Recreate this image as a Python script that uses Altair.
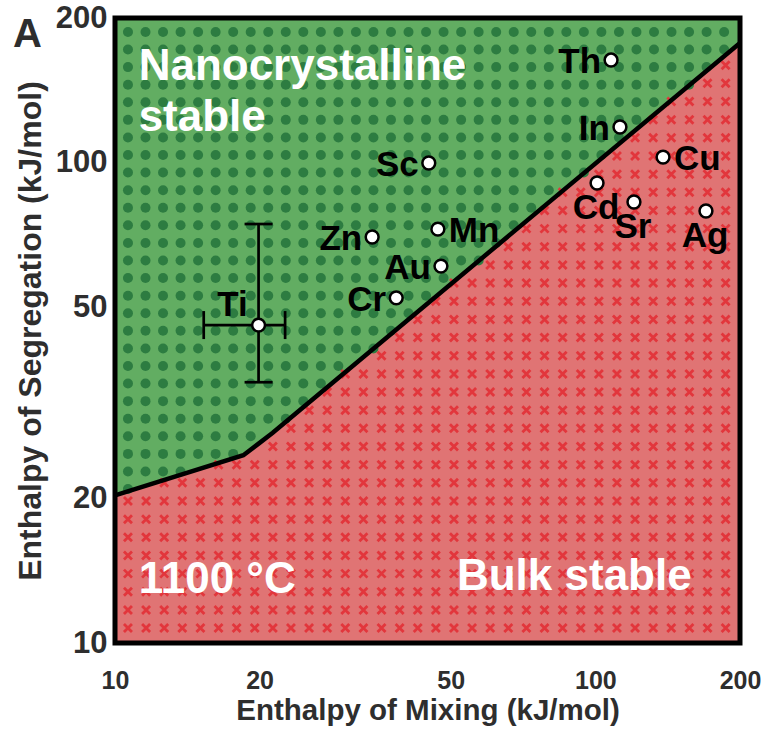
import altair as alt
import numpy as np
import pandas as pd

# Solute elements with their enthalpies (kJ/mol)
ELEMENTS = ["Th", "In", "Cu", "Cd", "Sr", "Ag", "Sc", "Mn", "Zn", "Au", "Cr", "Ti"]
H_MIX = [107.8, 112.5, 138.3, 100.8, 120.3, 169.9, 45.0, 47.0, 34.3, 47.7, 38.5, 19.9]
H_SEG = [163.5, 118.6, 102.7, 90.7, 82.8, 79.3, 99.8, 72.7, 70.0, 60.9, 52.3, 45.9]

# Uncertainty range for Ti
TI_MIX_RANGE = [15.3, 22.6]
TI_SEG_RANGE = [34.9, 74.5]

# Stability boundary at 1100 °C
BOUNDARY_MIX = [10.0, 18.5, 20.0, 21.3, 24.3, 200.0]
BOUNDARY_SEG = [20.3, 24.6, 26.1, 27.4, 30.6, 177.5]

DOMAIN = [10, 200]
TICKS = [10, 20, 50, 100, 200]

FONT = "Liberation Sans"
GREEN_BG = "#62ad62"
GREEN_DOT = "#2d7c41"
RED_BG = "#e07474"
RED_X = "#e2363c"
TEXT_DARK = "#2e2e2e"

W = H = 625
SCALE = alt.Scale(type="log", domain=DOMAIN, nice=False)

boundary = pd.DataFrame({"mix": BOUNDARY_MIX, "seg": BOUNDARY_SEG})
frame = pd.DataFrame({"mix": [DOMAIN[0]], "mix2": [DOMAIN[1]],
                      "seg": [DOMAIN[0]], "seg2": [DOMAIN[1]]})
points = pd.DataFrame({"element": ELEMENTS, "mix": H_MIX, "seg": H_SEG})


def above_boundary(mix, seg):
    edge = np.interp(np.log10(mix), np.log10(BOUNDARY_MIX), np.log10(BOUNDARY_SEG))
    return np.log10(seg) > edge


# Texture grids (log-spaced, in decades of the axis domain)
lo = np.log10(DOMAIN[0])
hi = np.log10(DOMAIN[1])
dot_x = 10 ** (lo + 0.027 + 0.0365 * np.arange(35))
dot_y = 10 ** (hi - 0.029 - 0.0366 * np.arange(35))
gx, gy = np.meshgrid(dot_x, dot_y)
dots = pd.DataFrame({"mix": gx.ravel(), "seg": gy.ravel()})
dots = dots[above_boundary(dots.mix.values, dots.seg.values)]

cross_x = 10 ** (lo + 0.027 + 0.0377 * np.arange(34))
cross_y = 10 ** (lo + 0.031 + 0.0378 * np.arange(33))
cx, cy = np.meshgrid(cross_x, cross_y)
crosses = pd.DataFrame({"mix": cx.ravel(), "seg": cy.ravel()})
crosses = crosses[~above_boundary(crosses.mix.values, crosses.seg.values)]

x_axis = alt.Axis(values=TICKS, title="Enthalpy of Mixing (kJ/mol)", domain=False,
                  ticks=False, grid=False, labelFlush=False, labelOverlap=False)
y_axis = alt.Axis(values=TICKS, title="Enthalpy of Segregation (kJ/mol)", domain=False,
                  ticks=False, grid=False, labelFlush=False, labelOverlap=False,
                  titleY=H / 2)


def xs(field="mix"):
    return alt.X(f"{field}:Q", scale=SCALE, axis=x_axis)


def ys(field="seg"):
    return alt.Y(f"{field}:Q", scale=SCALE, axis=y_axis)


green = alt.Chart(frame).mark_rect(color=GREEN_BG).encode(
    x=xs(), x2="mix2:Q", y=ys(), y2="seg2:Q")

red = alt.Chart(boundary).mark_area(color=RED_BG, opacity=1).encode(
    x=xs(), y=ys(), y2=alt.datum(DOMAIN[0]))

dot_layer = alt.Chart(dots).mark_circle(color=GREEN_DOT, size=100, opacity=1).encode(
    x=xs(), y=ys())

cross_layer = alt.Chart(crosses).mark_point(
    shape="M-1,-1L1,1M-1,1L1,-1", size=64, strokeWidth=2.8, color=RED_X,
    filled=False, opacity=1).encode(x=xs(), y=ys())

line = alt.Chart(boundary).mark_line(color="black", strokeWidth=4.5).encode(
    x=xs(), y=ys())

border = alt.Chart(frame).mark_rect(filled=False, stroke="black", strokeWidth=5).encode(
    x=xs(), x2="mix2:Q", y=ys(), y2="seg2:Q")

ti_idx = ELEMENTS.index("Ti")
ti_h = pd.DataFrame({"mix": [TI_MIX_RANGE[0]], "mix2": [TI_MIX_RANGE[1]],
                     "seg": [H_SEG[ti_idx]]})
ti_v = pd.DataFrame({"mix": [H_MIX[ti_idx]], "seg": [TI_SEG_RANGE[0]],
                     "seg2": [TI_SEG_RANGE[1]]})
ti_xcaps = pd.DataFrame({"mix": TI_MIX_RANGE, "seg": [H_SEG[ti_idx]] * 2})
ti_ycaps = pd.DataFrame({"mix": [H_MIX[ti_idx]] * 2, "seg": TI_SEG_RANGE})

err_h = alt.Chart(ti_h).mark_rule(color="black", strokeWidth=2.7).encode(
    x=xs(), x2="mix2:Q", y=ys())
err_v = alt.Chart(ti_v).mark_rule(color="black", strokeWidth=2.7).encode(
    x=xs(), y=ys(), y2="seg2:Q")
cap_x = alt.Chart(ti_xcaps).mark_tick(orient="vertical", size=28, thickness=2.7,
                                      color="black", opacity=1).encode(x=xs(), y=ys())
cap_y = alt.Chart(ti_ycaps).mark_tick(orient="horizontal", size=28, thickness=2.7,
                                      color="black", opacity=1).encode(x=xs(), y=ys())

dots_pts = alt.Chart(points).mark_point(
    shape="circle", size=165, filled=True, fill="white", stroke="black",
    strokeWidth=2.5, opacity=1).encode(x=xs(), y=ys())

# Which side of its marker each element name sits on
LABEL_SIDE = {"Th": "left", "In": "left", "Sc": "left", "Zn": "left", "Au": "left",
              "Cr": "left", "Cu": "right", "Mn": "right", "Cd": "below",
              "Sr": "below", "Ag": "below", "Ti": "upper_left"}
SIDE_STYLE = {
    "left": dict(align="right", dx=-10, dy=2),
    "right": dict(align="left", dx=11, dy=2),
    "below": dict(align="center", dx=-1, dy=25),
    "upper_left": dict(align="center", dx=-26, dy=-20),
}
points["side"] = points.element.map(LABEL_SIDE)

label_layers = []
for side, style in SIDE_STYLE.items():
    label_layers.append(
        alt.Chart(points[points.side == side]).mark_text(
            baseline="middle", font=FONT, fontSize=35, fontWeight="bold",
            color="black", **style).encode(x=xs(), y=ys(), text="element:N"))

# Region annotations
regions = pd.DataFrame({
    "text": ["Nanocrystalline\nstable", "1100 °C", "Bulk stable"],
    "mix": [11.2, 11.2, 51.5],
    "seg": [148.6, 12.7, 12.9],
})
region_text = alt.Chart(regions).mark_text(
    align="left", baseline="alphabetic", font=FONT, fontSize=44, fontWeight="bold",
    color="white", lineBreak="\n", lineHeight=51).encode(
    x=xs(), y=ys(), text="text:N")

# Panel letter in the top-left corner
panel_letter = alt.Chart(pd.DataFrame({"panel": ["A"]})).mark_text(
    align="left", baseline="alphabetic", font=FONT, fontSize=40, fontWeight="bold",
    color=TEXT_DARK).encode(x=alt.value(-102), y=alt.value(29), text="panel:N")

chart = alt.layer(
    green, red, dot_layer, cross_layer, line, border,
    err_h, err_v, cap_x, cap_y, dots_pts, *label_layers, region_text, panel_letter,
).properties(
    width=W, height=H,
    autosize=alt.AutoSizeParams(type="none"),
    padding={"left": 115, "top": 18, "right": 25, "bottom": 87},
).configure_view(
    stroke=None
).configure_axis(
    labelFont=FONT, labelFontWeight="bold", labelColor=TEXT_DARK,
    titleFont=FONT, titleFontWeight="bold", titleColor=TEXT_DARK,
).configure_axisX(
    labelFontSize=25, labelPadding=25, titleFontSize=29.5, titlePadding=3,
).configure_axisY(
    labelFontSize=31, labelPadding=8, titleFontSize=32, titlePadding=8,
)

chart.save("out.html", embed_options={"renderer": "svg", "actions": False})
